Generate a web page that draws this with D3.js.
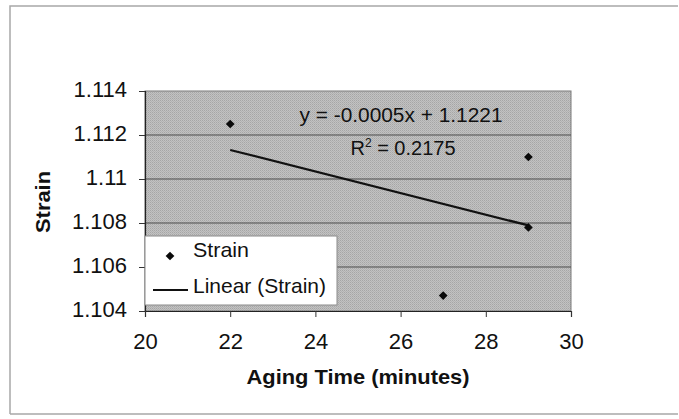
<!DOCTYPE html>
<html>
<head>
<meta charset="utf-8">
<script src="https://cdn.jsdelivr.net/npm/d3@7"></script>
<style>
  html, body { margin: 0; padding: 0; background: #fff; }
  svg { display: block; font-family: "Liberation Sans", Arial, sans-serif; }
</style>
</head>
<body>
<svg id="chart" width="679" height="419"></svg>
<script>
// Measured strain for each aging time
const agingTime = [22, 27, 29, 29];
const strain = [1.1125, 1.1047, 1.1110, 1.1078];

// Linear trend fitted to the strain series
const trendSlope = [-0.00049];
const trendIntercept = [1.1221];
const trendR2 = [0.2175];

// Axis ticks
const xTicks = [20, 22, 24, 26, 28, 30];
const yTicks = [1.104, 1.106, 1.108, 1.11, 1.112, 1.114];

const svg = d3.select("#chart");

// Outer chart frame
svg.append("path")
  .attr("d", "M10,414 L10,6 L678,6 M10,414 L678,414")
  .attr("fill", "none")
  .attr("stroke", "#a8a8a8")
  .attr("stroke-width", 1.5);

const x = d3.scaleLinear().domain([20, 30]).range([145, 571]);
const y = d3.scaleLinear().domain([1.104, 1.114]).range([311, 91]);

// Dithered grey plot area
const defs = svg.append("defs");
const pat = defs.append("pattern")
  .attr("id", "dither").attr("width", 2).attr("height", 2)
  .attr("patternUnits", "userSpaceOnUse");
pat.append("rect").attr("width", 2).attr("height", 2).attr("fill", "#c2c2c2");
pat.append("rect").attr("width", 1).attr("height", 1).attr("fill", "#a6a6a6");
pat.append("rect").attr("x", 1).attr("y", 1).attr("width", 1).attr("height", 1).attr("fill", "#b2b2b2");

svg.append("rect")
  .attr("x", x(20)).attr("y", y(1.114))
  .attr("width", x(30) - x(20)).attr("height", y(1.104) - y(1.114))
  .attr("fill", "url(#dither)")
  .attr("stroke", "#7a7a7a").attr("stroke-width", 1);

// Horizontal gridlines
svg.append("g").selectAll("line")
  .data(yTicks.filter(t => t > 1.104 && t < 1.114))
  .join("line")
  .attr("x1", x(20)).attr("x2", x(30))
  .attr("y1", d => y(d)).attr("y2", d => y(d))
  .attr("stroke", "#4d4d4d").attr("stroke-width", 1);

// Axes
const yAxis = svg.append("g")
  .attr("transform", `translate(${x(20)},0)`)
  .call(d3.axisLeft(y).tickValues(yTicks).tickSize(6).tickPadding(12)
    .tickFormat(d => String(+d.toFixed(3))));
const xAxis = svg.append("g")
  .attr("transform", `translate(0,${y(1.104)})`)
  .call(d3.axisBottom(x).tickValues(xTicks).tickSize(6).tickPadding(14)
    .tickFormat(d => String(d)));

[yAxis, xAxis].forEach(g => {
  g.attr("font-family", null).attr("font-size", null);
  g.select(".domain").attr("stroke", "#222").attr("stroke-width", 1.2);
  g.selectAll(".tick line").attr("stroke", "#333");
  g.selectAll(".tick text")
    .attr("fill", "#111")
    .style("font-family", "'Liberation Sans', Arial, sans-serif")
    .style("font-size", "22px");
});
yAxis.selectAll(".tick text").attr("dy", "0.25em").attr("x", -18);
xAxis.selectAll(".tick text").attr("dy", "0.71em").attr("y", 22);

// Trendline over the span of the data
const xExt = d3.extent(agingTime);
const trend = xExt.map(t => [t, trendIntercept[0] + trendSlope[0] * t]);
svg.append("path")
  .attr("d", d3.line().x(d => x(d[0])).y(d => y(d[1]))(trend))
  .attr("fill", "none").attr("stroke", "#111").attr("stroke-width", 2.2);

// Data points as square diamonds
const diamond = d3.symbol().type(d3.symbolSquare).size(38);
svg.append("g").selectAll("path")
  .data(agingTime.map((t, i) => [t, strain[i]]))
  .join("path")
  .attr("d", diamond)
  .attr("transform", d => `translate(${x(d[0])},${y(d[1])}) rotate(45)`)
  .attr("fill", "#0a0a0a");

// Trend equation and R²
const fmt4 = d3.formatLocale({ decimal: ".", thousands: ",", grouping: [3], currency: ["", ""], minus: "-" }).format(".4f");
const eq = `y = ${fmt4(trendSlope[0])}x + ${fmt4(trendIntercept[0])}`;
svg.append("text")
  .attr("x", 401).attr("y", 122)
  .attr("text-anchor", "middle")
  .attr("font-size", 20).attr("fill", "#111")
  .attr("textLength", 203).attr("lengthAdjust", "spacingAndGlyphs")
  .text(eq);
const r2 = svg.append("text")
  .attr("x", 403).attr("y", 155)
  .attr("text-anchor", "middle")
  .attr("font-size", 20).attr("fill", "#111");
r2.append("tspan").text("R");
r2.append("tspan").attr("font-size", 12).attr("dy", -8).text("2");
r2.append("tspan").attr("dy", 8).text(` = ${fmt4(trendR2[0])}`);

// Legend
const lg = svg.append("g");
lg.append("rect")
  .attr("x", 145).attr("y", 236).attr("width", 192).attr("height", 69)
  .attr("fill", "#fff").attr("stroke", "#8a8a8a").attr("stroke-width", 1);
lg.append("path")
  .attr("d", diamond)
  .attr("transform", "translate(170,256) rotate(45)")
  .attr("fill", "#0a0a0a");
lg.append("text")
  .attr("x", 193).attr("y", 257).attr("font-size", 21).attr("fill", "#111")
  .attr("textLength", 56).attr("lengthAdjust", "spacingAndGlyphs")
  .text("Strain");
lg.append("line")
  .attr("x1", 153).attr("x2", 188).attr("y1", 290).attr("y2", 290)
  .attr("stroke", "#111").attr("stroke-width", 2.2);
lg.append("text")
  .attr("x", 193).attr("y", 293).attr("font-size", 21).attr("fill", "#111")
  .attr("textLength", 133).attr("lengthAdjust", "spacingAndGlyphs")
  .text("Linear (Strain)");

// Axis titles
svg.append("text")
  .attr("x", 358).attr("y", 384)
  .attr("text-anchor", "middle")
  .attr("font-size", 21).attr("font-weight", "bold").attr("fill", "#111")
  .attr("textLength", 223).attr("lengthAdjust", "spacingAndGlyphs")
  .text("Aging Time (minutes)");
svg.append("text")
  .attr("transform", "translate(50,202) rotate(-90)")
  .attr("text-anchor", "middle")
  .attr("font-size", 21).attr("font-weight", "bold").attr("fill", "#111")
  .attr("textLength", 62).attr("lengthAdjust", "spacingAndGlyphs")
  .text("Strain");
</script>
</body>
</html>
